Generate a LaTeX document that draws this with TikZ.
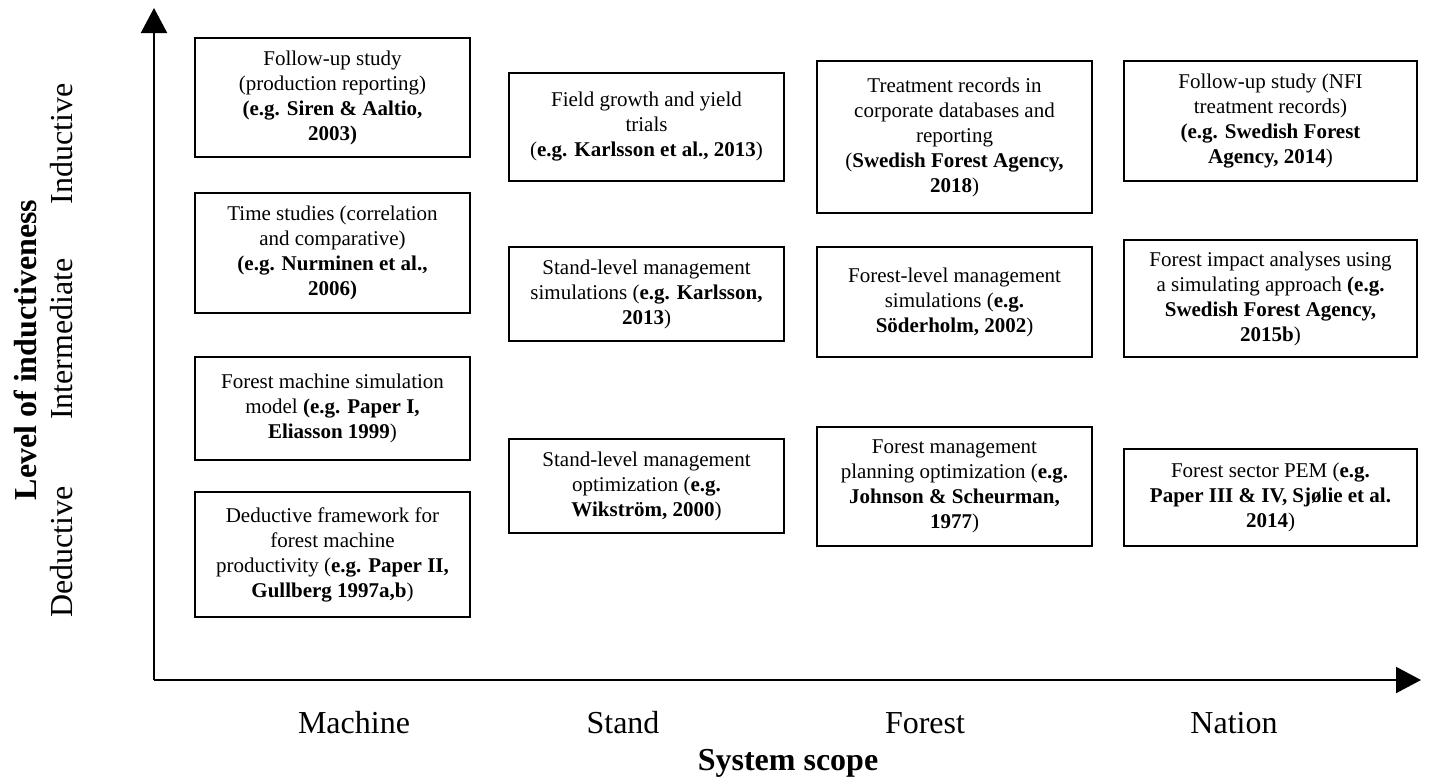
\documentclass[tikz,border=0pt]{standalone}
\usepackage{fontspec}
\setmainfont{Liberation Serif}
\usetikzlibrary{arrows.meta}
\newcommand\gridbox[6]{%
  \node[box, minimum width={(#4-#2)*0.5pt}, minimum height={(#5-#3)*0.5pt}]
    (#1) at ({(#2+#4)/2},{(#3+#5)/2}) {#6};}
\begin{document}
\begin{tikzpicture}[x=0.5pt,y=-0.5pt,
  box/.style={draw, line width=0.75pt, align=center, inner sep=2pt,
    font=\fontsize{10.5}{12.5}\selectfont},
  axis/.style={line width=1.1pt, -{Triangle[width=13pt,length=12.5pt]}},
  scopelab/.style={font=\fontsize{16}{19}\selectfont, anchor=base},
  levellab/.style={font=\fontsize{16}{19}\selectfont, anchor=base, rotate=90},
  axistitle/.style={font=\fontsize{16}{19}\selectfont\bfseries, anchor=base}]
\useasboundingbox (0,0) rectangle (1434,777);
% axes
\coordinate (O) at (154,680);
\coordinate (ytop) at (154,8);
\coordinate (xend) at (1421,680);
\draw[axis] (O) -- (ytop);
\draw[axis] (O) -- (xend);
% Machine column
\gridbox{m1}{195}{38}{470}{157}{Follow-up study\\(production reporting)\\\textbf{(e.g. Siren \& Aaltio,}\\\textbf{2003)}}
\gridbox{m2}{195}{193}{470}{313}{Time studies (correlation\\and comparative)\\\textbf{(e.g. Nurminen et al.,}\\\textbf{2006)}}
\gridbox{m3}{195}{357}{470}{460}{Forest machine simulation\\model \textbf{(e.g. Paper I,}\\\textbf{Eliasson 1999})}
\gridbox{m4}{195}{492}{470}{617}{Deductive framework for\\forest machine\\productivity (\textbf{e.g. Paper II,}\\\textbf{Gullberg 1997a,b})}
% Stand column
\gridbox{s1}{509}{73}{784}{181}{Field growth and yield\\trials\\(\textbf{e.g. Karlsson et al., 2013})}
\gridbox{s2}{509}{247}{784}{341}{Stand-level management\\simulations (\textbf{e.g. Karlsson,}\\\textbf{2013})}
\gridbox{s3}{509}{439}{784}{533}{Stand-level management\\optimization (\textbf{e.g.}\\\textbf{Wikström, 2000})}
% Forest column
\gridbox{f1}{817}{61}{1092}{213}{Treatment records in\\corporate databases and\\reporting\\(\textbf{Swedish Forest Agency,}\\\textbf{2018})}
\gridbox{f2}{817}{247}{1092}{357}{Forest-level management\\simulations (\textbf{e.g.}\\\textbf{Söderholm, 2002})}
\gridbox{f3}{817}{427}{1092}{546}{Forest management\\planning optimization (\textbf{e.g.}\\\textbf{Johnson \& Scheurman,}\\\textbf{1977})}
% Nation column
\gridbox{n1}{1124}{61}{1417}{181}{Follow-up study (NFI\\treatment records)\\\textbf{(e.g. Swedish Forest}\\\textbf{Agency, 2014})}
\gridbox{n2}{1124}{240}{1417}{357}{Forest impact analyses using\\a simulating approach \textbf{(e.g.}\\\textbf{Swedish Forest Agency,}\\\textbf{2015b})}
\gridbox{n3}{1124}{449}{1417}{546}{Forest sector PEM (\textbf{e.g.}\\\textbf{Paper III \& IV, Sjølie et al.}\\\textbf{2014})}
% scope labels
\node[scopelab] (lmachine) at (354,733) {Machine};
\node[scopelab] (lstand) at (623,733) {Stand};
\node[scopelab] (lforest) at (925,733) {Forest};
\node[scopelab] (lnation) at (1234,733) {Nation};
\node[axistitle] (xtitle) at (788,770) {System scope};
% level labels
\node[levellab] (lind) at (72,144) {Inductive};
\node[levellab] (lint) at (72,339) {Intermediate};
\node[levellab] (lded) at (72,552) {Deductive};
\node[axistitle, rotate=90] (ytitle) at (36,350) {Level of inductiveness};
\end{tikzpicture}
\end{document}
